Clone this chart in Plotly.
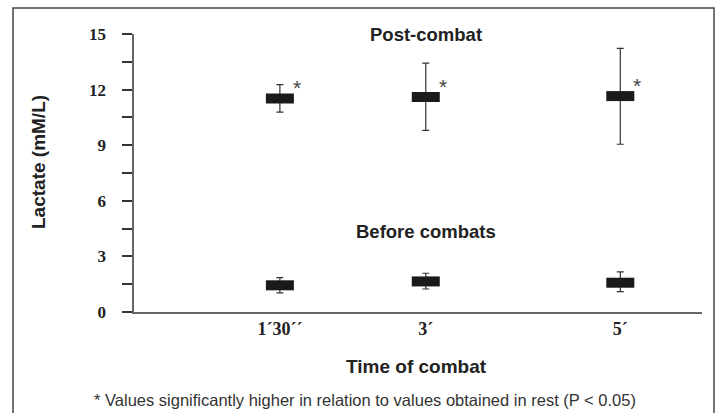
import plotly.graph_objects as go

# Data (time of combat in minutes)
times = [1.5, 3, 5]
time_labels = ["1´30´´", "3´", "5´"]
post_mean = [11.52, 11.60, 11.65]
post_err_plus = [0.75, 1.83, 2.57]
post_err_minus = [0.73, 1.80, 2.60]
pre_mean = [1.44, 1.65, 1.58]
pre_err_plus = [0.41, 0.44, 0.59]
pre_err_minus = [0.41, 0.41, 0.48]

y_tickvals = [0, 1.5, 3, 4.5, 6, 7.5, 9, 10.5, 12, 13.5, 15]
y_ticktext = ["0", "", "3", "", "6", "", "9", "", "12", "", "15"]

fig = go.Figure()

for mean, ep, em in [(post_mean, post_err_plus, post_err_minus),
                     (pre_mean, pre_err_plus, pre_err_minus)]:
    fig.add_trace(go.Scatter(
        x=times, y=mean, mode="markers",
        marker=dict(symbol="line-ew", size=20, color="#1a1a1a",
                    line=dict(width=10, color="#1a1a1a")),
        error_y=dict(type="data", symmetric=False, array=ep, arrayminus=em,
                     color="#333333", thickness=1.2, width=3.5),
        showlegend=False, hoverinfo="skip"))

# asterisks
for t, m in zip(times, post_mean):
    fig.add_annotation(x=t, y=m, text="*", showarrow=False, xshift=17, yshift=11,
                       font=dict(family="Liberation Sans", size=21, color="#444"))

bold = dict(family="Liberation Sans", size=19, color="#222", weight="bold")

fig.add_annotation(x=3, y=15, text="Post-combat", showarrow=False, yanchor="middle",
                   font=dict(bold, size=18.5))
fig.add_annotation(x=3, y=4.32, text="Before combats", showarrow=False, yanchor="middle",
                   font=dict(bold, size=18.5))

# axis titles
fig.add_annotation(xref="paper", yref="paper", x=(38 - 134) / 568, y=(312 - 162) / 278,
                   text="Lactate (mM/L)", textangle=-90, showarrow=False,
                   xanchor="center", yanchor="middle", font=bold)
fig.add_annotation(xref="paper", yref="paper", x=(416 - 134) / 568, y=(312 - 366) / 278,
                   text="Time of combat", showarrow=False,
                   xanchor="center", yanchor="middle", font=bold)
fig.add_annotation(xref="paper", yref="paper", x=(92 - 134) / 568, y=(312 - 400) / 278,
                   text="* Values significantly higher in relation to values obtained in rest (P < 0.05)",
                   showarrow=False, xanchor="left", yanchor="middle",
                   font=dict(family="Liberation Sans", size=16.5, color="#333"))

# outer frame
fig.add_shape(type="rect", xref="paper", yref="paper",
              x0=(13 - 134) / 568, x1=(714 - 134) / 568,
              y0=(312 - 430) / 278, y1=(312 - 8) / 278,
              line=dict(color="#444", width=1.5), fillcolor="rgba(0,0,0,0)", layer="below")

fig.update_layout(
    width=722, height=413,
    margin=dict(l=134, r=20, t=34, b=101),
    paper_bgcolor="white", plot_bgcolor="white",
    xaxis=dict(range=[0, 5.84], tickvals=times, ticktext=time_labels,
               showline=True, linecolor="#666", linewidth=1.5, ticks="",
               showgrid=False, zeroline=False,
               tickfont=dict(family="Liberation Serif", size=18, color="#222", weight="bold")),
    yaxis=dict(range=[0, 15], tickvals=y_tickvals,
               ticktext=[t + "\u00a0\u00a0\u00a0" if t else t for t in y_ticktext],
               showline=True, linecolor="#666", linewidth=1.5,
               ticks="outside", ticklen=10, tickcolor="#333", tickwidth=2,
               showgrid=False, zeroline=False,
               tickfont=dict(family="Liberation Serif", size=17, color="#222", weight="bold")),
)

fig.write_html("out.html")
